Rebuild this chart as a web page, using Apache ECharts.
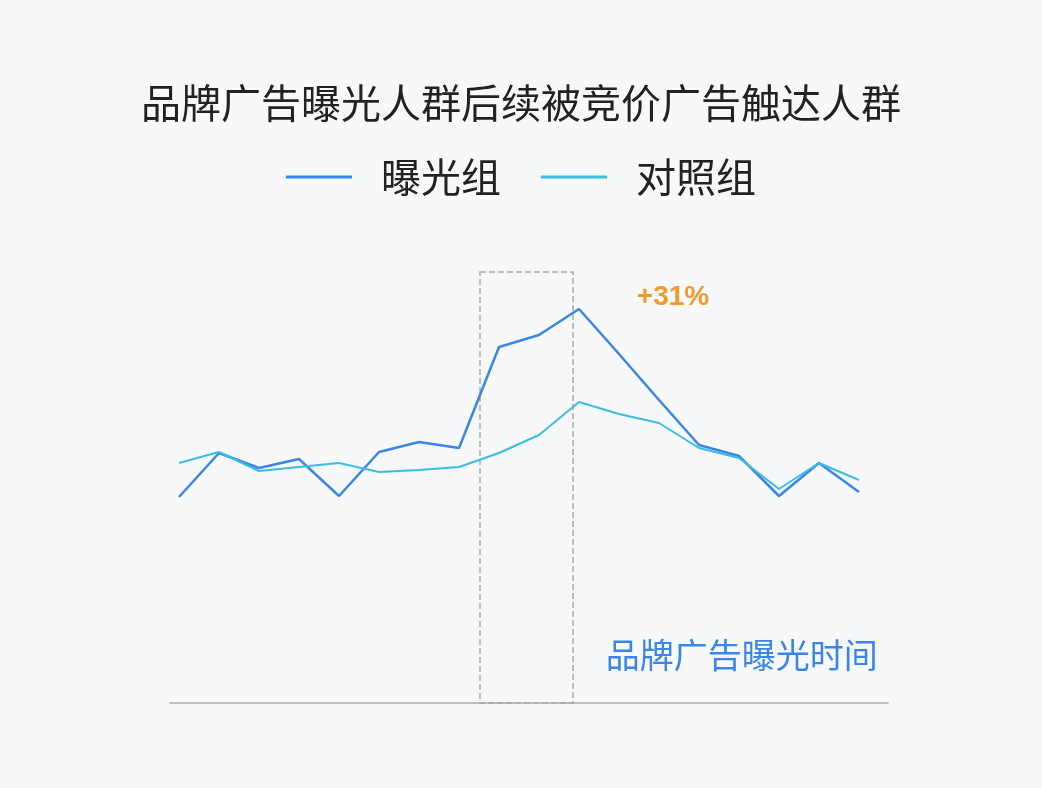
<!DOCTYPE html><html><head><meta charset="utf-8"><script src="https://cdn.jsdelivr.net/npm/echarts@6/dist/echarts.min.js"></script>
<style>html,body{margin:0;background:#f7f8fa}#c{width:1042px;height:788px}</style></head><body><div id="c"></div><script>
const xs=[0,1,2,3,4,5,6,7,8,9,10,11,12,13,14,15,16,17];
const exposed=[206,250,235,244,207,251,261,255,356,368,394,349,303,258,247,207,240,211];
const control=[240,251,232,236,240,231,233,236,250,268,301,289,280,255,245,214,240,223];
const names=['曝光组','对照组'];
const c=echarts.init(document.getElementById('c'));
c.setOption({backgroundColor:'#f7f8fa',
title:{text:'品牌广告曝光人群后续被竞价广告触达人群',left:'center',top:78,textStyle:{fontSize:40,fontWeight:'normal',color:'#222',fontFamily:'Noto Sans CJK SC'}},
legend:{top:152,left:'center',itemWidth:66,itemGap:40,icon:'rect',itemHeight:3,textStyle:{fontSize:40,color:'#222',fontFamily:'Noto Sans CJK SC',padding:[0,0,0,24]}},
grid:{left:170,right:154,top:272,bottom:85},
xAxis:{type:'value',min:-0.225,max:17.725,axisLine:{lineStyle:{color:'#aaa',width:1.5}},axisTick:{show:false},axisLabel:{show:false},splitLine:{show:false}},
yAxis:{type:'value',min:0,max:431,show:false},
series:[{name:names[0],type:'line',symbol:'none',color:'#3a86e8',lineStyle:{width:2.5},data:xs.map((x,i)=>[x,exposed[i]]),
 markArea:{silent:true,itemStyle:{color:'rgba(0,0,0,0)',borderColor:'#aaa',borderWidth:1.5,borderType:'dashed'},data:[[{coord:[7.525,431]},{coord:[9.85,0]}]]},
 markPoint:{symbol:'circle',symbolSize:1,itemStyle:{color:'transparent'},data:[{coord:[12.35,406],label:{show:true,formatter:'+31%',color:'#f39a2b',fontSize:28,fontWeight:'bold'}},
 {coord:[14.07,48],label:{show:true,formatter:'品牌广告曝光时间',color:'#3a86e8',fontSize:34,fontFamily:'Noto Sans CJK SC'}}]}},
{name:names[1],type:'line',symbol:'none',color:'#3bbde0',lineStyle:{width:2},data:xs.map((x,i)=>[x,control[i]])}]
});
</script></body></html>
